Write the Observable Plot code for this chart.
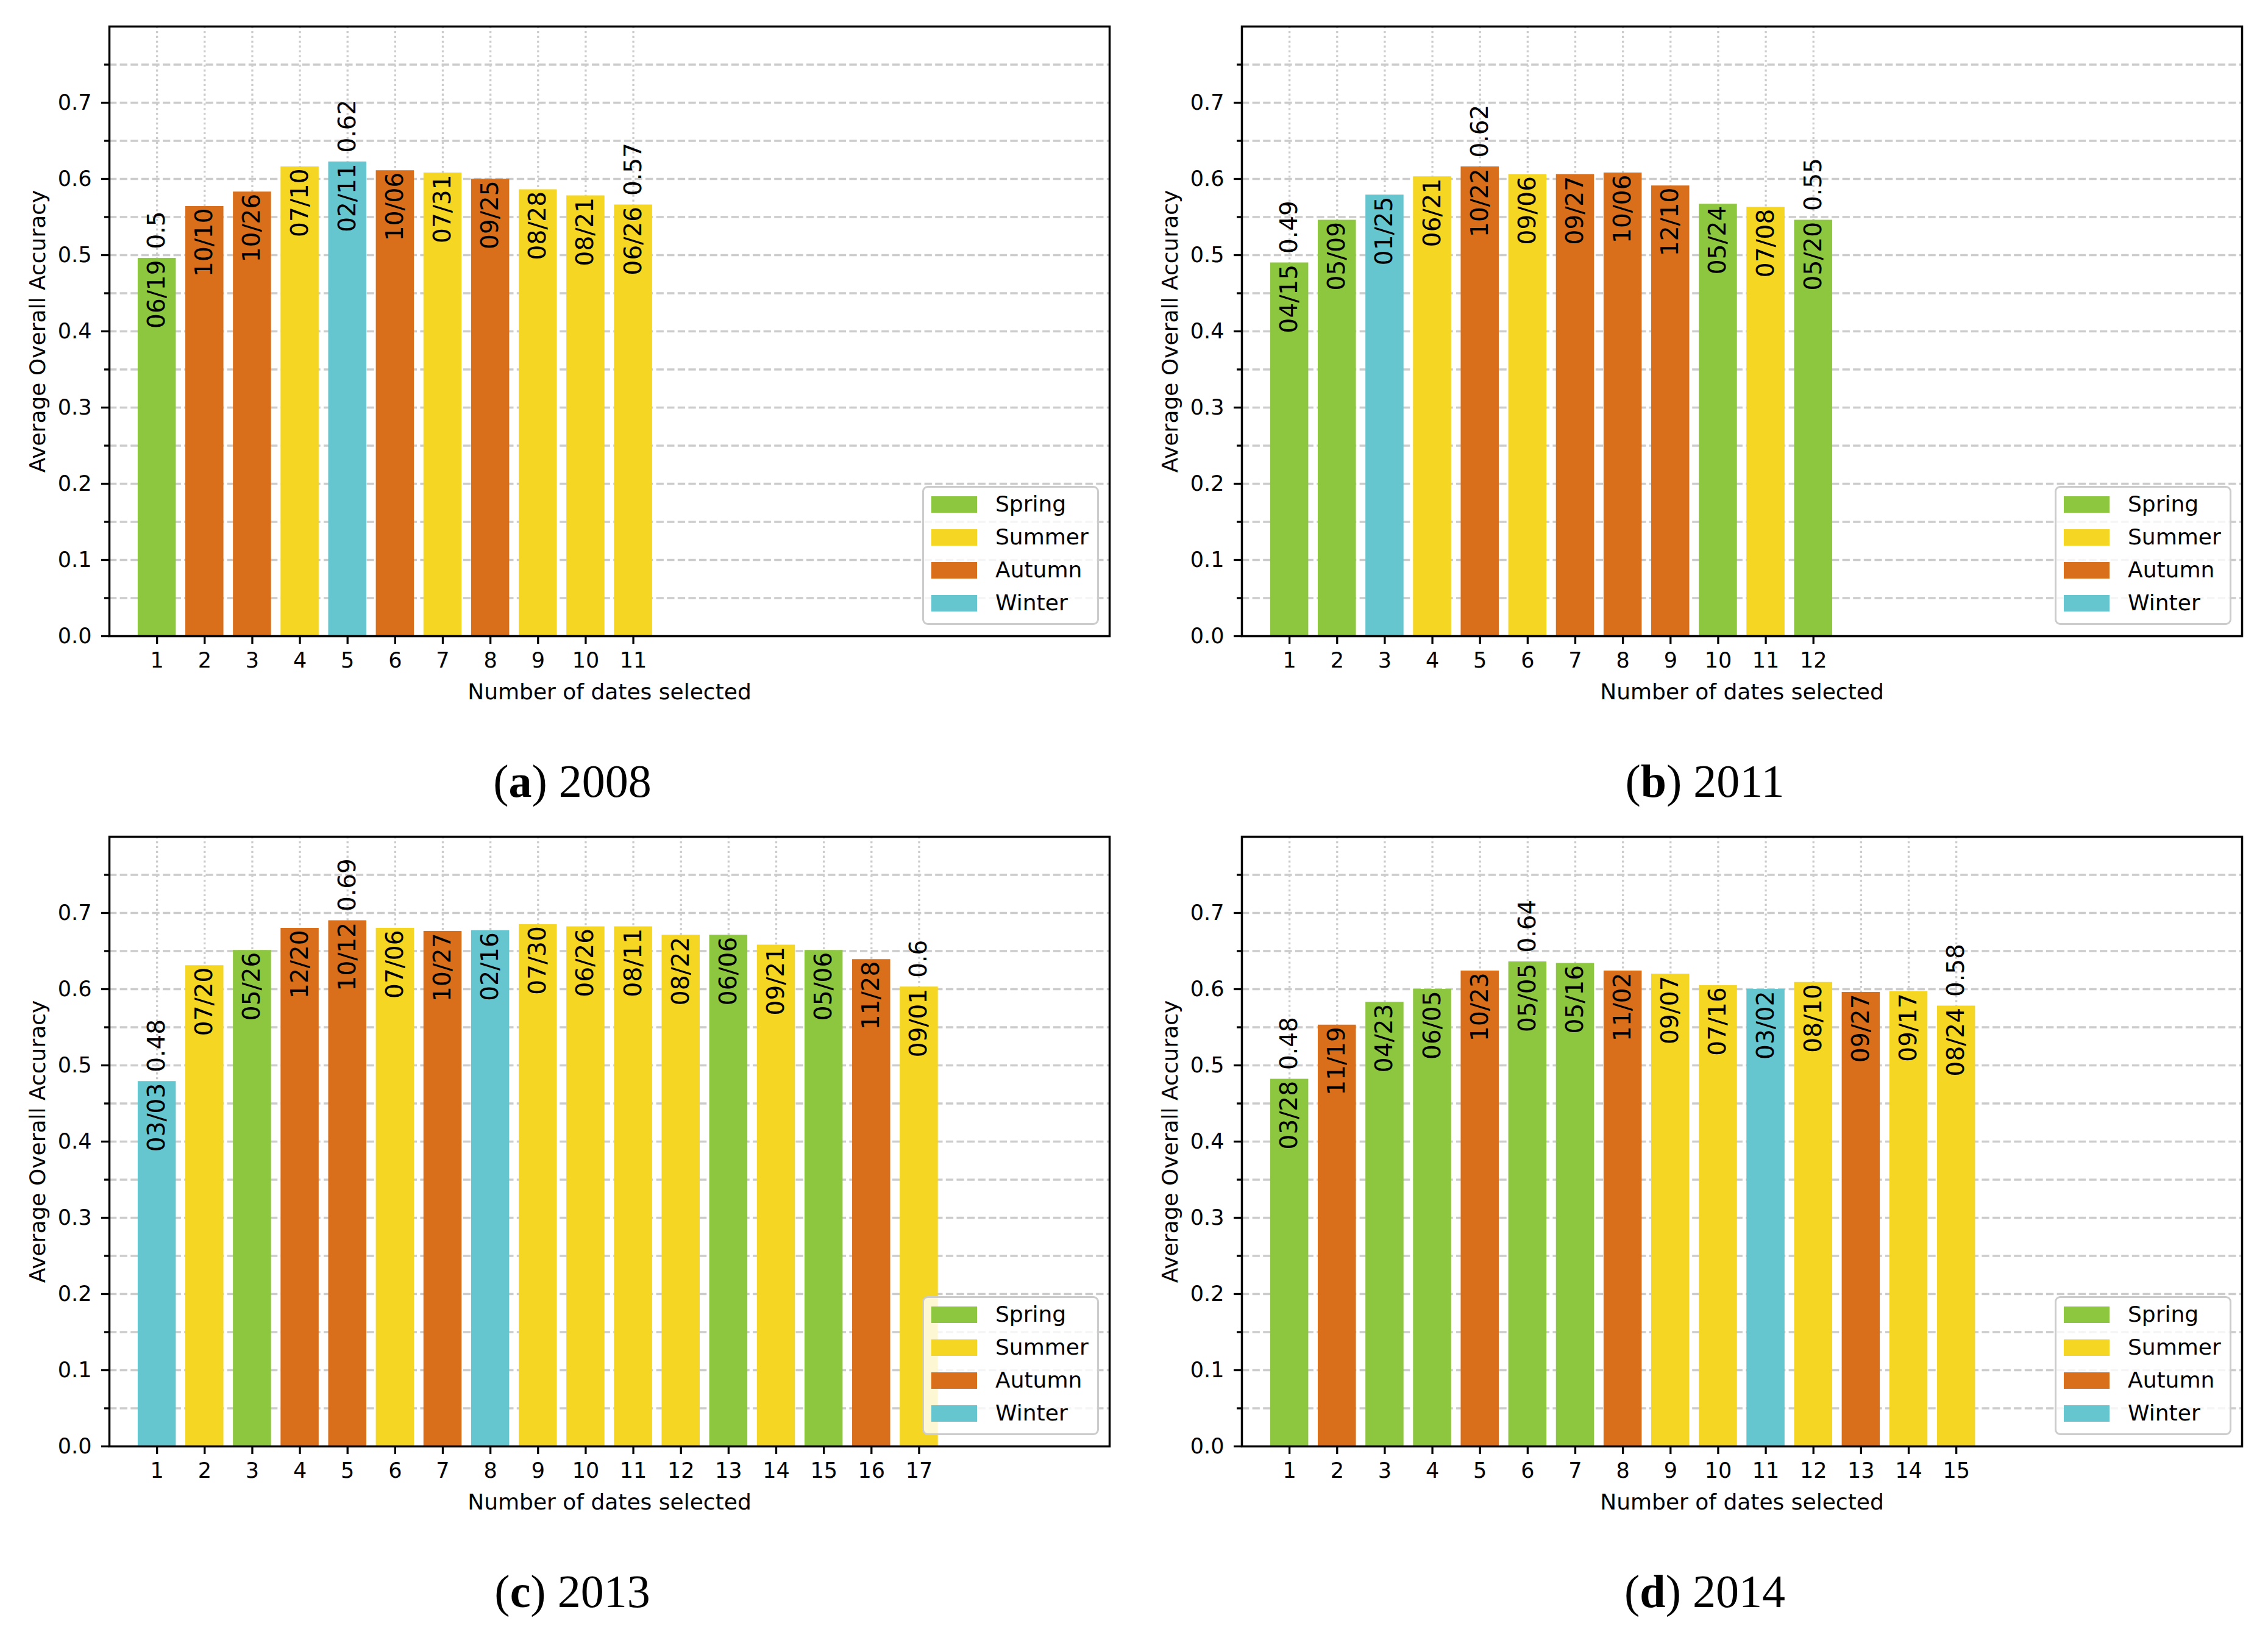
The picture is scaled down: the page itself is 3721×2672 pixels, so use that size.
<!DOCTYPE html>
<html>
<head>
<meta charset="utf-8">
<script src="https://cdn.jsdelivr.net/npm/d3@7"></script>
<script src="https://cdn.jsdelivr.net/npm/@observablehq/plot@0.6"></script>
<style>
html, body { margin: 0; padding: 0; background: #ffffff; }
#page { position: relative; width: 3721px; height: 2672px; overflow: hidden; background: #ffffff; }
.panel { position: absolute; width: 1860px; height: 1200px; }
.legend { position: absolute; left: 1513px; top: 797px; width: 284px; height: 222px;
  border: 3px solid #cccccc; border-radius: 9px; background: rgba(255,255,255,0.8);
  font-family: "DejaVu Sans"; font-size: 36px; color: #000; }
.sw { position: absolute; left: 12px; width: 75px; height: 27px; }
.lt { position: absolute; left: 117px; height: 54px; line-height: 54px; white-space: nowrap; }
.caption { position: absolute; width: 1860px; text-align: center; font-family: "Liberation Serif", serif;
  font-size: 76px; line-height: 76px; color: #000; }
</style>
</head>
<body>
<div id="page"></div>
<script>
// ---------- data ----------
const seasons = ["Spring", "Summer", "Autumn", "Winter"];
const seasonColors = ["#8dc63f", "#f4d623", "#d96e1b", "#66c6d0"];

const dates2008 = ["06/19","10/10","10/26","07/10","02/11","10/06","07/31","09/25","08/28","08/21","06/26"];
const seasons2008 = ["Spring","Autumn","Autumn","Summer","Winter","Autumn","Summer","Autumn","Summer","Summer","Summer"];
const values2008 = [0.496,0.564,0.583,0.616,0.6225,0.611,0.608,0.600,0.586,0.578,0.566];

const dates2011 = ["04/15","05/09","01/25","06/21","10/22","09/06","09/27","10/06","12/10","05/24","07/08","05/20"];
const seasons2011 = ["Spring","Spring","Winter","Summer","Autumn","Summer","Autumn","Autumn","Autumn","Spring","Summer","Spring"];
const values2011 = [0.490,0.546,0.579,0.603,0.616,0.606,0.606,0.608,0.591,0.567,0.563,0.546];

const dates2013 = ["03/03","07/20","05/26","12/20","10/12","07/06","10/27","02/16","07/30","06/26","08/11","08/22","06/06","09/21","05/06","11/28","09/01"];
const seasons2013 = ["Winter","Summer","Spring","Autumn","Autumn","Summer","Autumn","Winter","Summer","Summer","Summer","Summer","Spring","Summer","Spring","Autumn","Summer"];
const values2013 = [0.479,0.631,0.651,0.680,0.690,0.680,0.676,0.677,0.685,0.682,0.682,0.671,0.671,0.658,0.651,0.639,0.603];

const dates2014 = ["03/28","11/19","04/23","06/05","10/23","05/05","05/16","11/02","09/07","07/16","03/02","08/10","09/27","09/17","08/24"];
const seasons2014 = ["Spring","Autumn","Spring","Spring","Autumn","Spring","Spring","Autumn","Summer","Summer","Winter","Summer","Autumn","Summer","Summer"];
const values2014 = [0.482,0.553,0.583,0.600,0.624,0.636,0.634,0.624,0.620,0.605,0.600,0.609,0.596,0.597,0.578];

const yTicks = [0.0,0.1,0.2,0.3,0.4,0.5,0.6,0.7];
const yMinorTicks = [0.05,0.15,0.25,0.35,0.45,0.55,0.65,0.75];
const yGrid = [0.05,0.1,0.15,0.2,0.25,0.3,0.35,0.4,0.45,0.5,0.55,0.6,0.65,0.7,0.75];

const panels = [
  {dates: dates2008, seasons: seasons2008, values: values2008, letter: "a", year: "2008", left: 0, top: 0},
  {dates: dates2011, seasons: seasons2011, values: values2011, letter: "b", year: "2011", left: 1858, top: 0},
  {dates: dates2013, seasons: seasons2013, values: values2013, letter: "c", year: "2013", left: 0, top: 1329},
  {dates: dates2014, seasons: seasons2014, values: values2014, letter: "d", year: "2014", left: 1858, top: 1329}
];

function makePlot(dates, seas, vals) {
  const data = dates.map((d, i) => ({n: i + 1, date: d, season: seas[i], value: vals[i]}));
  const xs = data.map(d => d.n);
  const imax = d3.maxIndex(vals);
  const labeled = data.filter((d, i) => i === 0 || i === imax || i === data.length - 1);
  return Plot.plot({
    width: 1860, height: 1200,
    marginTop: 43, marginBottom: 157, marginLeft: 179, marginRight: 40,
    style: {fontFamily: "DejaVu Sans", fontSize: "35px", background: "transparent", overflow: "visible"},
    x: {type: "linear", domain: [0, 21], label: null},
    y: {domain: [0, 0.8], label: null},
    color: {domain: seasons, range: seasonColors},
    marks: [
      Plot.ruleY(yGrid, {stroke: "#cccccc", strokeWidth: 3.3, strokeDasharray: "12.3,5.3"}),
      Plot.ruleX(xs, {stroke: "#cccccc", strokeWidth: 3.3, strokeDasharray: "3.3,4.6"}),
      Plot.rectY(data, {x1: d => d.n - 0.4, x2: d => d.n + 0.4, y1: () => 0, y2: "value", fill: "season"}),
      Plot.text(data, {x: "n", y: "value", text: "date", rotate: -90, textAnchor: "end", dy: 3, fontSize: 39, fill: "black"}),
      Plot.text(labeled, {x: "n", y: "value", text: d => String(Math.round(d.value * 100) / 100), rotate: -90, textAnchor: "start", dy: -15, fontSize: 39, fill: "black"}),
      Plot.axisY(yTicks, {tickSize: 13, tickPadding: 16, strokeWidth: 3.3, tickFormat: d3.format(".1f"), label: null, fontSize: 35}),
      Plot.axisY(yMinorTicks, {tickSize: 8, strokeWidth: 3.3, tickFormat: () => "", label: null}),
      Plot.axisX(xs, {tickSize: 13, tickPadding: 14, strokeWidth: 3.3, tickFormat: d => String(d), label: null, fontSize: 35}),
      Plot.frame({stroke: "black", strokeWidth: 3.5}),
      Plot.text(["Number of dates selected"], {frameAnchor: "bottom", dy: 78, lineAnchor: "top", textAnchor: "middle", fontSize: 36, fill: "black"}),
      Plot.text(["Average Overall Accuracy"], {frameAnchor: "left", dx: -117, rotate: -90, textAnchor: "middle", fontSize: 36, fill: "black"})
    ]
  });
}

const page = document.getElementById("page");
for (const p of panels) {
  const div = document.createElement("div");
  div.className = "panel";
  div.style.left = p.left + "px";
  div.style.top = p.top + "px";
  div.appendChild(makePlot(p.dates, p.seasons, p.values));
  // legend
  const lg = document.createElement("div");
  lg.className = "legend";
  seasons.forEach((s, i) => {
    const c = 27 + 54 * i;
    const sw = document.createElement("div");
    sw.className = "sw";
    sw.style.top = (c - 13.5) + "px";
    sw.style.background = seasonColors[i];
    const t = document.createElement("div");
    t.className = "lt";
    t.style.top = (c - 27) + "px";
    t.textContent = s;
    lg.appendChild(sw);
    lg.appendChild(t);
  });
  div.appendChild(lg);
  page.appendChild(div);
  // caption
  const cap = document.createElement("div");
  cap.className = "caption";
  cap.style.left = (p.left + 9) + "px";
  cap.style.top = (p.top + 1243) + "px";
  cap.innerHTML = "(<b>" + p.letter + "</b>) " + p.year;
  page.appendChild(cap);
}
</script>
</body>
</html>
